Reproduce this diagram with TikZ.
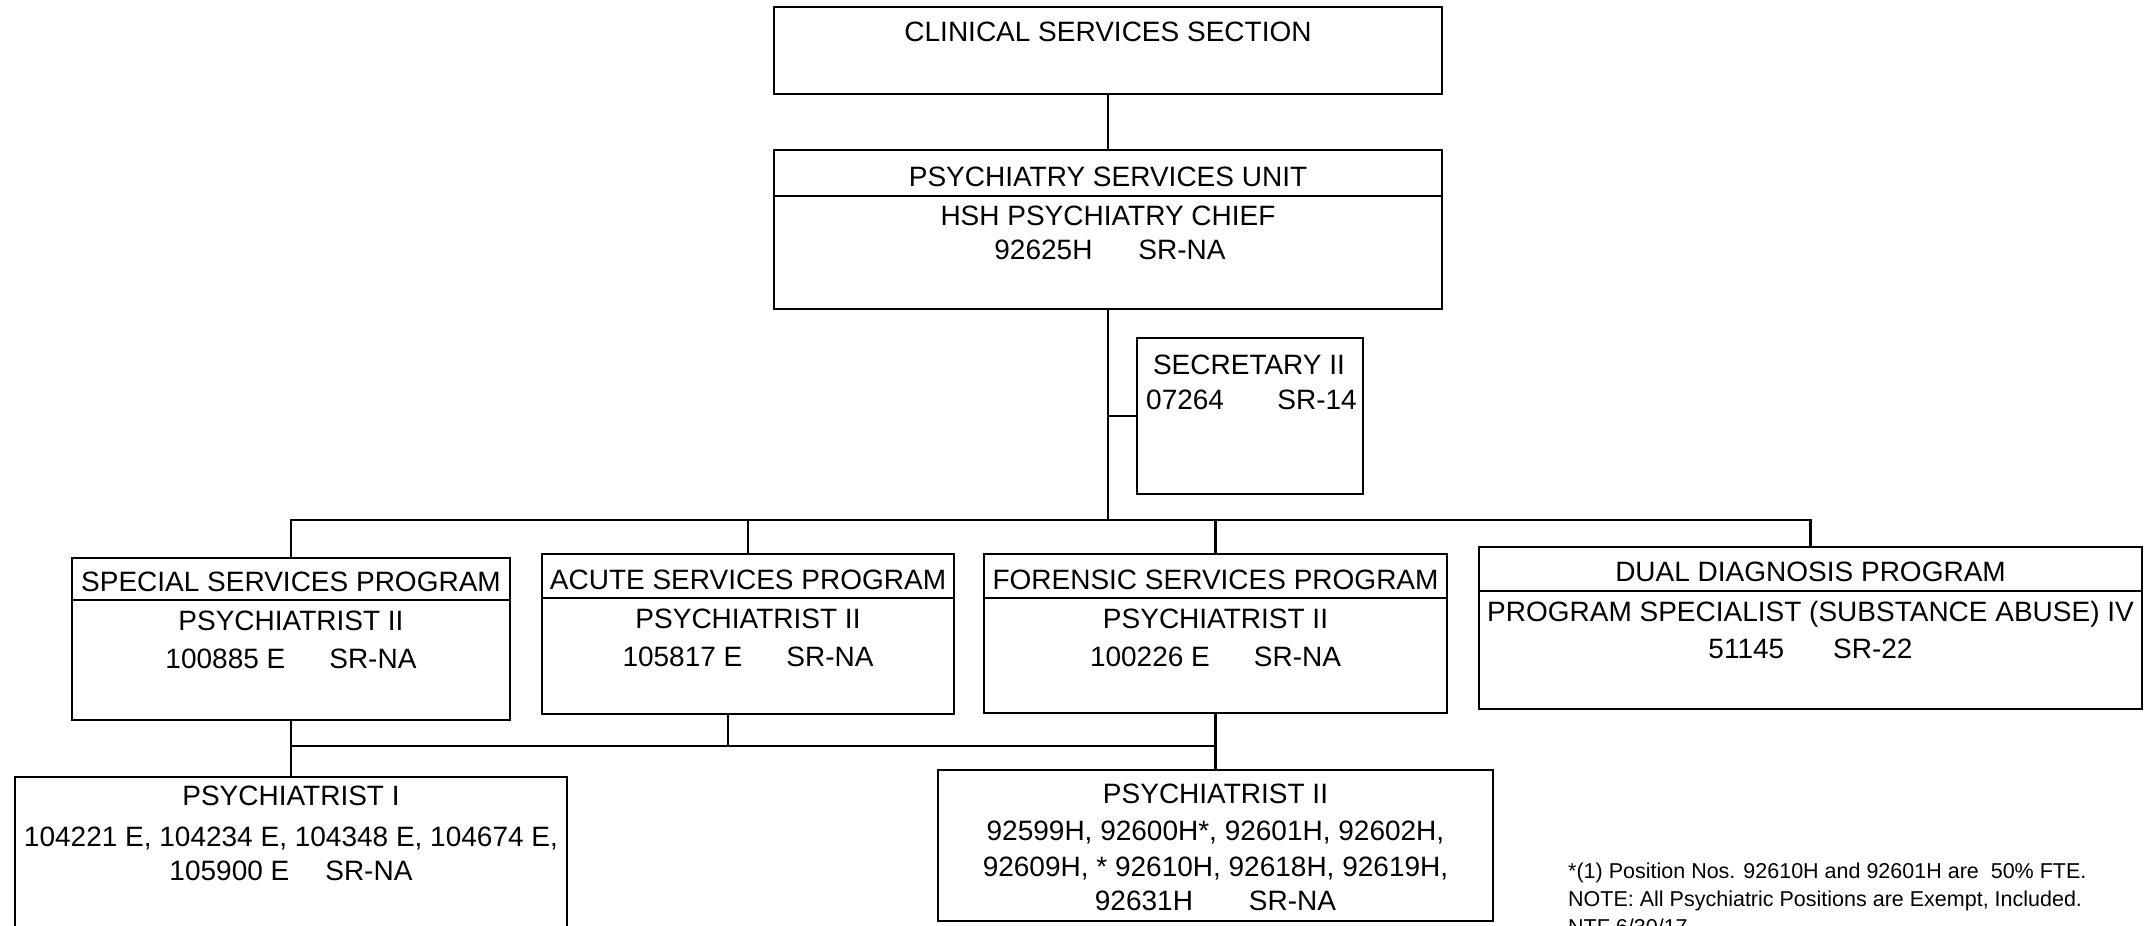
\documentclass[tikz,border=0pt]{standalone}
\usepackage{fontspec}
\setmainfont{Liberation Sans}
\begin{document}
\begin{tikzpicture}[x=1pt,y=-1pt,
  box/.style={draw, line width=2.6pt, inner sep=0pt},
  txt/.style={inner sep=0pt, anchor=base, font=\fontsize{28}{34}\selectfont},
  txtl/.style={txt, anchor=base west},
  txtr/.style={txt, anchor=base east},
  note/.style={inner sep=0pt, anchor=base west, font=\fontsize{21.5}{28}\selectfont},
  link/.style={line width=2.6pt}]
\clip (0,0) rectangle (2145,926);
\fill[white] (0,0) rectangle (2145,926);
% boxes
\node[box, minimum width=668pt, minimum height=87pt]  (clin)  at (1108,50.5) {};
\node[box, minimum width=668pt, minimum height=159pt] (unit)  at (1108,229.5) {};
\node[box, minimum width=226pt, minimum height=156pt] (sec)   at (1250,416) {};
\node[box, minimum width=438pt, minimum height=162pt] (spec)  at (291,639) {};
\node[box, minimum width=412pt, minimum height=160pt] (acute) at (748,634) {};
\node[box, minimum width=463pt, minimum height=159pt] (foren) at (1215.5,633.5) {};
\node[box, minimum width=663pt, minimum height=162pt] (dual)  at (1810.5,628) {};
\node[box, minimum width=552pt, minimum height=186pt] (psyI)  at (291,870) {};
\node[box, minimum width=555pt, minimum height=151pt] (psyII) at (1215.5,845.5) {};
% dividers
\draw[link] (unit.west |- 0,196) -- (unit.east |- 0,196);
\draw[link] (spec.west |- 0,600) -- (spec.east |- 0,600);
\draw[link] (acute.west |- 0,598) -- (acute.east |- 0,598);
\draw[link] (foren.west |- 0,598) -- (foren.east |- 0,598);
\draw[link] (dual.west |- 0,591) -- (dual.east |- 0,591);
% texts
\node[txt] (clint) at (1108,41.5) {CLINICAL SERVICES SECTION};
\node[txt] (unitt) at (1108,186) {PSYCHIATRY SERVICES UNIT};
\node[txt] (unit1) at (1108,225) {HSH PSYCHIATRY CHIEF};
\node[txt] (unit2) at (1110,259) {92625H\hspace{46pt}SR-NA};
\node[txt] (sect) at (1249,374) {SECRETARY II};
\node[txtl] (sec1) at (1146,409) {07264};
\node[txtr] (sec2) at (1357,409) {SR-14};
\node[txt] (spect) at (291,591) {SPECIAL SERVICES PROGRAM};
\node[txt] (spec1) at (291,630) {PSYCHIATRIST II};
\node[txt] (spec2) at (291,668) {100885 E\hspace{44pt}SR-NA};
\node[txt] (acutet) at (748,589) {ACUTE SERVICES PROGRAM};
\node[txt] (acute1) at (748,628) {PSYCHIATRIST II};
\node[txt] (acute2) at (748,666) {105817 E\hspace{44pt}SR-NA};
\node[txt] (forent) at (1215.5,589) {FORENSIC SERVICES PROGRAM};
\node[txt] (foren1) at (1215.5,628) {PSYCHIATRIST II};
\node[txt] (foren2) at (1215.5,666) {100226 E\hspace{44pt}SR-NA};
\node[txt] (dualt) at (1810.5,581) {DUAL DIAGNOSIS PROGRAM};
\node[txt] (dual1) at (1810.5,621) {PROGRAM SPECIALIST (SUBSTANCE ABUSE) IV};
\node[txt] (dual2) at (1810.5,658) {51145\hspace{49pt}SR-22};
\node[txt] (psyIt) at (291,805) {PSYCHIATRIST I};
\node[txt] (psyI1) at (291,846) {104221 E, 104234 E, 104348 E, 104674 E,};
\node[txt] (psyI2) at (291,880) {105900 E\hspace{36pt}SR-NA};
\node[txt] (psyIIt) at (1215.5,803) {PSYCHIATRIST II};
\node[txt] (psyII1) at (1215.5,840) {92599H, 92600H*, 92601H, 92602H,};
\node[txt] (psyII2) at (1215.5,876) {92609H, * 92610H, 92618H, 92619H,};
\node[txt] (psyII3) at (1215.5,910) {92631H\hspace{56pt}SR-NA};
\node[note] (n1) at (1568,878) {*(1) Position Nos. 92610H and 92601H are\ \ 50\% FTE.};
\node[note] (n2) at (1568,906) {NOTE: All Psychiatric Positions are Exempt, Included.};
\node[note] (n3) at (1568,934) {NTF 6/30/17};
% connectors
\draw[link] (clin.south) -- (unit.north);
\coordinate (bus) at (1108,520);
\coordinate (bus2) at (0,746);
\draw[link] (unit.south) -- (bus);
\draw[link] (sec.west -| unit.south) -- (sec.west);
\draw[link] (spec.north) -- (spec.north |- bus) -- (dual.north |- bus) -- (dual.north);
\draw[link] (acute.north) -- (acute.north |- bus);
\draw[link] (foren.north) -- (foren.north |- bus);
\draw[link] (spec.south) -- (psyI.north);
\draw[link] (spec.south |- bus2) -- (foren.south |- bus2);
\draw[link] ([xshift=-20pt]acute.south) -- ([xshift=-20pt]acute.south |- bus2);
\draw[link] (foren.south) -- (psyII.north);
\end{tikzpicture}
\end{document}
